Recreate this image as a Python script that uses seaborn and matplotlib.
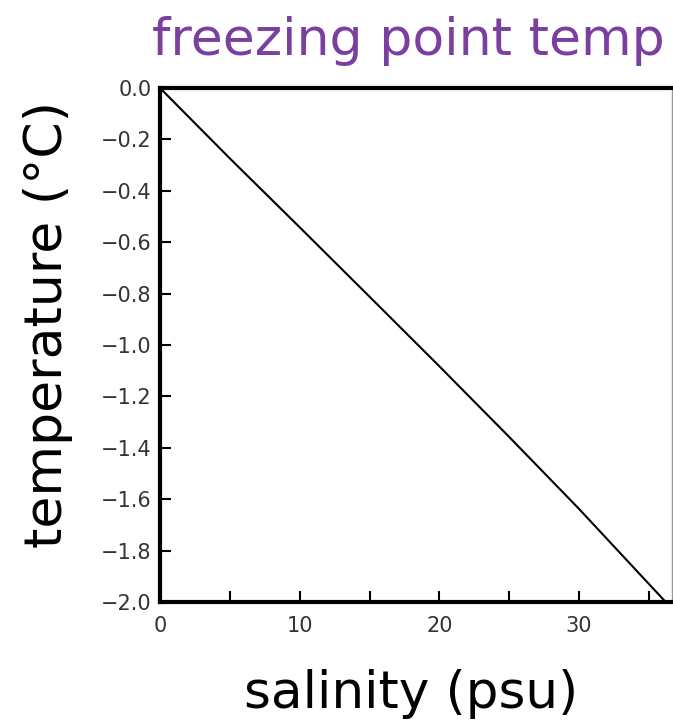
import matplotlib
matplotlib.use("Agg")
import matplotlib.pyplot as plt
from matplotlib.ticker import MultipleLocator
import numpy as np
import pandas as pd
import seaborn as sns

# Freezing point of sea water versus salinity
salinity = [0.0, 5.0, 10.0, 15.0, 20.0, 25.0, 30.0, 35.0, 36.2]
freezing_temp = [0.0, -0.274, -0.542, -0.812, -1.083, -1.358, -1.638, -1.93, -2.0]

x_ticks = [0, 10, 20, 30]
y_ticks = [0.0, -0.2, -0.4, -0.6, -0.8, -1.0, -1.2, -1.4, -1.6, -1.8, -2.0]
y_tick_labels = ["0.0", "\u22120.2", "\u22120.4", "\u22120.6", "\u22120.8", "\u22121.0",
                 "\u22121.2", "\u22121.4", "\u22121.6", "\u22121.8", "\u22122.0"]

title_text = "freezing point temp"
x_label = "salinity (psu)"
y_label = "temperature (\u00b0C)"

sns.set_theme(style="white")
plt.rcParams["font.family"] = ["DejaVu Sans"]

W, H = 673, 728
fig = plt.figure(figsize=(W / 100, H / 100), dpi=100)
fig.patch.set_facecolor("white")

left, right, top, bottom = 160, 672, 88, 602
ax = fig.add_axes([left / W, 1 - bottom / H, (right - left) / W, (bottom - top) / H])

df = pd.DataFrame({"salinity": salinity, "temperature": freezing_temp})
sns.lineplot(data=df, x="salinity", y="temperature", ax=ax, color="black", lw=1.5)

ax.set_xlim(0, 36.65)
ax.set_ylim(-2.0, 0.0)
ax.set_xticks(x_ticks)
ax.set_xticklabels([str(t) for t in x_ticks])
ax.xaxis.set_minor_locator(MultipleLocator(5))
ax.set_yticks(y_ticks)
ax.set_yticklabels(y_tick_labels)
ax.set_xlabel("")
ax.set_ylabel("")

ax.tick_params(which="both", direction="in", length=8, width=1.5, color="black",
               bottom=True, left=True, top=False, right=False)
ax.tick_params(axis="both", which="major", labelsize=15, labelcolor="#333333")
ax.tick_params(axis="x", which="major", pad=10)
ax.tick_params(axis="y", which="major", pad=6)

for side in ["left", "bottom", "top"]:
    ax.spines[side].set_linewidth(3)
    ax.spines[side].set_color("black")
ax.spines["right"].set_linewidth(1)
ax.spines["right"].set_color("#999999")

renderer = fig.canvas.get_renderer()


def fit_text(txt, target_px, rotated=False):
    for _ in range(3):
        bb = txt.get_window_extent(renderer=renderer)
        cur = bb.height if rotated else bb.width
        txt.set_fontsize(txt.get_fontsize() * target_px / cur)


t_title = fig.text(152 / W, 1 - 55 / H, title_text, ha="left", va="baseline",
                   color="#7b3fa0", fontsize=34)
fit_text(t_title, 513)

t_x = fig.text(411 / W, 1 - 708 / H, x_label, ha="center", va="baseline",
               color="black", fontsize=32)
fit_text(t_x, 335)

t_y = fig.text(48 / W, 1 - 324 / H, y_label, ha="center", va="center",
               rotation=90, color="black", fontsize=32)
fit_text(t_y, 448, rotated=True)

fig.savefig("out.png", dpi=100, facecolor="white")
